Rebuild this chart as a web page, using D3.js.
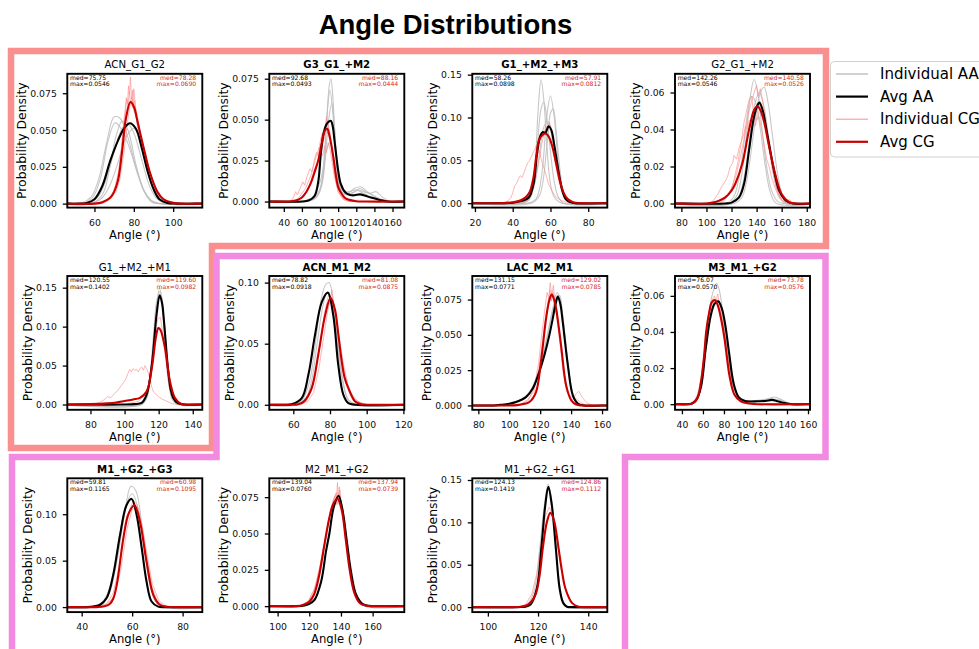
<!DOCTYPE html>
<html>
<head>
<meta charset="utf-8">
<script src="https://cdn.jsdelivr.net/npm/d3@7"></script>
<style>
  body { margin: 0; background: #fff; }
  svg { display: block; font-family: "DejaVu Sans", sans-serif; }
</style>
</head>
<body>
<svg id="chart" width="979" height="649"></svg>
<script>
// ---------------- data ----------------
const titles = ["ACN_G1_G2", "G3_G1_+M2", "G1_+M2_+M3", "G2_G1_+M2",
                "G1_+M2_+M1", "ACN_M1_M2", "LAC_M2_M1", "M3_M1_+G2",
                "M1_+G2_+G3", "M2_M1_+G2", "M1_+G2_+G1"];
const titleBold = [false, true, true, false, false, true, true, true, true, false, false];

const xDomains = [[46.2, 114.8], [24, 173], [18.6, 90.1], [74.9, 182.6],
                  [66.4, 145.6], [46.9, 120.5], [76.1, 163.4], [33.4, 161.9],
                  [34.3, 87.8], [94.75, 180], [93.8, 147.6]];
const yDomains = [[-0.0027, 0.0882], [-0.0037, 0.078], [-0.0052, 0.151], [-0.0022, 0.0701],
                  [-0.0068, 0.165], [-0.0041, 0.1054], [-0.0031, 0.0917], [-0.0031, 0.071],
                  [-0.0054, 0.1387], [-0.0041, 0.088], [-0.0059, 0.152]];

const xTickValues = [[60, 80, 100], [40, 60, 80, 100, 120, 140, 160], [20, 40, 60, 80],
                     [80, 100, 120, 140, 160, 180], [80, 100, 120, 140], [60, 80, 100, 120],
                     [80, 100, 120, 140, 160], [40, 60, 80, 100, 120, 140, 160],
                     [40, 60, 80], [100, 120, 140, 160], [100, 120, 140]];
const yTickValues = [[0, 0.025, 0.05, 0.075], [0, 0.025, 0.05, 0.075], [0, 0.05, 0.1, 0.15],
                     [0, 0.02, 0.04, 0.06], [0, 0.05, 0.1, 0.15], [0, 0.05, 0.1],
                     [0, 0.025, 0.05, 0.075], [0, 0.02, 0.04, 0.06], [0, 0.05, 0.1],
                     [0, 0.025, 0.05, 0.075], [0, 0.05, 0.1, 0.15]];
const yTickDigits = [3, 3, 2, 2, 2, 2, 3, 2, 2, 3, 2];

const medAA = [75.75, 92.68, 58.26, 142.26, 120.55, 78.82, 131.15, 76.07, 59.81, 139.04, 124.13];
const maxAA = [0.0546, 0.0493, 0.0898, 0.0546, 0.1402, 0.0918, 0.0771, 0.0570, 0.1165, 0.0760, 0.1419];
const medCG = [78.28, 88.16, 57.91, 140.58, 119.60, 81.08, 129.02, 73.78, 60.98, 137.94, 124.86];
const maxCG = [0.0690, 0.0444, 0.0812, 0.0526, 0.0982, 0.0875, 0.0785, 0.0576, 0.1095, 0.0739, 0.1112];

// averaged all-atom densities, [angle, density]
const avgAA = [
  [[45,0],[52,0],[56,0.0005],[60,0.003],[64,0.012],[68,0.029],[72,0.043],[75,0.051],[78,0.0546],[81,0.051],[84,0.038],[87,0.022],[90,0.010],[93,0.003],[97,0.0005],[102,0],[115,0]],
  [[24,0],[60,0],[68,0.0008],[74,0.0034],[78,0.012],[81,0.03],[84,0.042],[87,0.047],[90,0.049],[92,0.0493],[94,0.046],[96,0.037],[97.5,0.03],[100,0.019],[103,0.0106],[108,0.0055],[113,0.004],[118,0.0038],[124,0.0044],[130,0.0035],[136,0.0024],[146,0.001],[155,0],[173,0]],
  [[18,0],[35,0],[40,0.0005],[45,0.0027],[48.5,0.0066],[51,0.022],[53,0.060],[54.7,0.079],[56,0.083],[57.3,0.082],[59,0.0898],[60.5,0.085],[62,0.068],[63.6,0.046],[65,0.028],[66.3,0.0145],[68,0.005],[70,0.0015],[73,0],[91,0]],
  [[74,0],[115,0],[120,0.0005],[126,0.0033],[130,0.0107],[134,0.029],[138,0.047],[141,0.0535],[142.3,0.0546],[145,0.050],[147.4,0.0417],[150,0.032],[152.8,0.0216],[155.5,0.013],[158,0.007],[163.5,0.0015],[169,0],[183,0]],
  [[66,0],[100,0],[106,0.0005],[110,0.002],[113,0.0129],[116,0.051],[118.8,0.116],[120.6,0.1402],[122,0.13],[123.1,0.107],[125.6,0.043],[127,0.02],[128.5,0.0086],[131,0.002],[135,0],[146,0]],
  [[46,0],[55,0],[59,0.0004],[64.6,0.0055],[68.2,0.0245],[71.8,0.057],[75.5,0.084],[78.8,0.0918],[81.8,0.073],[84.5,0.0326],[87.3,0.0082],[90,0.0014],[94,0],[121,0]],
  [[76,0],[90,0],[94,0.0004],[100,0.0012],[104.3,0.0024],[110.8,0.0059],[115.1,0.0118],[119.4,0.0237],[122.7,0.0355],[125.9,0.0497],[128.1,0.0615],[130,0.072],[131.4,0.0771],[133,0.072],[134.6,0.059],[137.9,0.0284],[141.1,0.0071],[144.4,0.0012],[148,0],[164,0]],
  [[33,0],[45,0],[49,0.0003],[53.2,0.0018],[58,0.0092],[62.7,0.031],[67.4,0.049],[71,0.0555],[74.5,0.057],[78,0.053],[81.5,0.043],[84.7,0.0293],[89.4,0.011],[94.2,0.0037],[100,0.0018],[105,0.0015],[112,0.0016],[119.4,0.0018],[125.7,0.0024],[130,0.0018],[135.2,0.0009],[144.7,0],[162,0]],
  [[34,0],[42,0],[45,0.0008],[47.3,0.0025],[49.9,0.0097],[52.5,0.0347],[55.2,0.0777],[57.8,0.11],[59.8,0.1165],[61.8,0.099],[63.8,0.0634],[65.7,0.0275],[67.7,0.006],[70.3,0.0005],[74,0],[88,0]],
  [[94,0],[112,0],[117,0.0005],[120,0.0016],[123.3,0.0043],[127.5,0.017],[130.6,0.038],[132.7,0.05],[135.4,0.068],[138.5,0.076],[141,0.066],[143.7,0.0447],[146.3,0.024],[149.4,0.0084],[153.5,0.0016],[158,0.0002],[162,0],[180,0]],
  [[93,0],[112,0],[115,0.0005],[117,0.003],[119.5,0.022],[121.3,0.069],[122.8,0.118],[124.1,0.1419],[125.5,0.12],[127.1,0.069],[128.6,0.022],[130,0.005],[131.5,0.0005],[134,0],[148,0]]
];

// averaged coarse-grained densities, [angle, density]
const avgCG = [
  [[45,0],[60,0],[64,0.001],[68,0.004],[70,0.008],[72,0.016],[74,0.035],[76,0.058],[78.3,0.069],[80,0.066],[82,0.055],[85,0.038],[88,0.022],[92,0.008],[95,0.003],[100,0.0005],[105,0],[115,0]],
  [[24,0],[45,0],[50,0.0003],[55,0.001],[60,0.0025],[65,0.006],[70,0.0116],[74,0.018],[78,0.025],[82,0.036],[85,0.043],[88,0.0444],[90,0.041],[92,0.036],[95,0.026],[97.5,0.016],[100,0.009],[103,0.0055],[107,0.0025],[111,0.0012],[120,0.0002],[130,0],[173,0]],
  [[18,0],[35,0],[40,0.001],[44,0.003],[47,0.007],[49,0.013],[51,0.03],[52.5,0.055],[54,0.074],[56,0.080],[57.4,0.0812],[59,0.078],[61,0.066],[63,0.046],[65,0.026],[67,0.012],[69,0.005],[72,0.001],[76,0],[91,0]],
  [[74,0],[100,0],[105,0.0005],[110,0.0015],[115,0.0033],[120,0.007],[123,0.0107],[128.6,0.0216],[134,0.040],[138,0.0505],[140.6,0.0526],[143,0.0505],[146,0.044],[150,0.0307],[155,0.0155],[160,0.005],[166,0.0008],[172,0],[183,0]],
  [[66,0],[80,0.0005],[90,0.0015],[95,0.0025],[100,0.0045],[105,0.0065],[109,0.0086],[113,0.017],[116,0.047],[118.5,0.088],[119.8,0.0982],[121,0.096],[123.7,0.0728],[126.6,0.03],[129.5,0.0086],[133,0.001],[138,0],[146,0]],
  [[46,0],[58,0],[62.7,0.0004],[66,0.003],[70,0.0136],[73.6,0.041],[77.3,0.073],[80.3,0.0875],[82.7,0.078],[84.5,0.058],[86.4,0.0353],[88,0.022],[90,0.0136],[93.7,0.0027],[97.3,0.0004],[102,0],[121,0]],
  [[76,0],[100,0],[105,0.0002],[110,0.0012],[113,0.0024],[117.3,0.0095],[120.5,0.031],[123.8,0.0615],[126,0.075],[127.5,0.0785],[129,0.075],[130.3,0.0687],[133.5,0.0426],[136.8,0.0142],[140.1,0.0036],[143.3,0.0006],[147,0],[164,0]],
  [[33,0],[46,0],[50,0.0005],[55,0.0037],[58,0.012],[61,0.026],[63.1,0.0402],[66,0.051],[68.5,0.0565],[71.5,0.0576],[74,0.055],[77,0.048],[80.5,0.0364],[83,0.025],[85.2,0.016],[89.9,0.0054],[96,0.0016],[105,0.0004],[112,0],[162,0]],
  [[34,0],[46,0],[49,0.0008],[51,0.003],[52.5,0.009],[53.9,0.024],[56.5,0.074],[58.5,0.1],[60.9,0.1095],[63.1,0.092],[65.7,0.049],[68.4,0.0132],[71,0.0025],[74,0.0003],[78,0],[88,0]],
  [[94,0],[112,0],[116,0.0008],[120,0.003],[123,0.008],[126,0.02],[129.5,0.042],[132.5,0.06],[135,0.07],[137.8,0.0739],[140.5,0.066],[143,0.046],[145.5,0.025],[148.5,0.009],[152,0.002],[156,0.0003],[160,0],[180,0]],
  [[93,0],[110,0],[113,0.0005],[116,0.003],[118.9,0.014],[120.5,0.035],[122,0.072],[123.5,0.1],[124.9,0.1112],[126.3,0.103],[128.2,0.069],[129.5,0.043],[130.9,0.022],[133.6,0.0047],[136.2,0.0005],[140,0],[148,0]]
];

// individual all-atom runs
const indivAA = [
  [
    [[52,0],[58,0.004],[62,0.016],[66,0.04],[70,0.059],[73,0.058],[77,0.045],[81,0.025],[85,0.009],[89,0.002],[94,0]],
    [[54,0],[59,0.004],[63,0.017],[67,0.043],[70.5,0.055],[74,0.05],[78,0.037],[82,0.02],[86,0.007],[90,0.001],[94,0]],
    [[56,0],[62,0.005],[66,0.017],[70,0.035],[74,0.051],[77,0.054],[80,0.048],[84,0.03],[88,0.012],[92,0.003],[97,0]],
    [[58,0],[64,0.004],[68,0.013],[72,0.028],[76,0.045],[80,0.051],[84,0.042],[88,0.022],[92,0.007],[96,0.001],[100,0]],
    [[58,0],[64,0.006],[68,0.026],[71,0.046],[74,0.056],[77,0.05],[81,0.027],[85,0.009],[89,0.001],[93,0]]
  ],
  [
    [[60,0],[70,0.001],[78,0.004],[83,0.015],[87,0.045],[90,0.07],[92,0.075],[94,0.065],[97,0.035],[100,0.015],[104,0.006],[110,0.004],[118,0.006],[124,0.008],[130,0.006],[138,0.004],[145,0.002],[155,0]],
    [[60,0],[72,0.002],[80,0.008],[85,0.03],[88,0.055],[91,0.068],[94,0.055],[97,0.03],[101,0.01],[106,0.005],[115,0.005],[122,0.007],[128,0.006],[135,0.005],[142,0.006],[148,0.003],[158,0]],
    [[62,0],[75,0.002],[82,0.01],[87,0.035],[90,0.052],[93,0.06],[96,0.045],[99,0.022],[103,0.009],[110,0.005],[118,0.008],[125,0.009],[132,0.006],[140,0.003],[150,0]],
    [[60,0],[72,0.003],[80,0.012],[85,0.025],[88,0.033],[91,0.036],[94,0.03],[98,0.017],[103,0.008],[110,0.006],[120,0.007],[128,0.005],[140,0.002],[150,0]]
  ],
  [
    [[44,0],[48,0.003],[50,0.012],[52,0.05],[53.5,0.11],[55,0.144],[56.5,0.12],[58,0.07],[59.5,0.03],[61,0.012],[63,0.004],[66,0]],
    [[48,0],[52,0.004],[54,0.015],[56,0.045],[58,0.1],[60,0.125],[62,0.1],[64,0.05],[66,0.015],[68,0.004],[71,0]],
    [[45,0],[49,0.005],[51,0.02],[53,0.065],[55,0.11],[56.5,0.118],[58,0.1],[60,0.06],[62,0.025],[64,0.008],[67,0]],
    [[50,0],[54,0.008],[56,0.025],[58,0.065],[60,0.105],[61.5,0.11],[63,0.085],[65,0.04],[67,0.012],[70,0.002],[73,0]],
    [[44,0],[48,0.005],[51,0.02],[54,0.055],[56,0.085],[58,0.095],[60,0.09],[62,0.065],[64,0.035],[66,0.014],[69,0.003],[72,0]]
  ],
  [
    [[118,0],[124,0.004],[128,0.015],[132,0.038],[135,0.058],[138,0.067],[141,0.06],[144,0.042],[148,0.02],[152,0.007],[157,0.001],[162,0]],
    [[122,0],[128,0.003],[132,0.012],[136,0.03],[140,0.05],[143,0.06],[146,0.063],[149,0.055],[153,0.035],[157,0.015],[161,0.004],[166,0]],
    [[120,0],[126,0.004],[130,0.014],[134,0.033],[138,0.052],[142,0.06],[146,0.052],[150,0.033],[154,0.014],[158,0.004],[163,0]],
    [[116,0],[122,0.004],[126,0.014],[130,0.033],[133,0.05],[136,0.058],[139,0.055],[143,0.04],[147,0.02],[151,0.006],[156,0]]
  ],
  [
    [[110,0],[113,0.008],[115,0.035],[117,0.08],[119,0.13],[120.5,0.15],[122,0.13],[124,0.07],[126,0.025],[128,0.006],[131,0]],
    [[110,0],[113,0.01],[115,0.04],[117,0.09],[119,0.135],[121,0.145],[123,0.115],[125,0.055],[127,0.016],[130,0.002],[133,0]]
  ],
  [
    [[60,0],[65,0.004],[69,0.02],[72,0.05],[75,0.085],[77.5,0.098],[79.5,0.1],[81.5,0.088],[84,0.055],[87,0.02],[90,0.004],[95,0]],
    [[62,0],[67,0.006],[70,0.02],[73,0.05],[76,0.08],[78.5,0.092],[81,0.085],[84,0.05],[87,0.018],[90,0.004],[94,0]]
  ],
  [
    [[95,0],[105,0.002],[112,0.008],[117,0.018],[121,0.032],[125,0.052],[128,0.068],[131,0.08],[133,0.075],[135,0.06],[138,0.03],[141,0.009],[145,0.001],[150,0]],
    [[95,0],[108,0.004],[115,0.012],[120,0.028],[124,0.046],[127.5,0.064],[130.5,0.076],[132.5,0.078],[134.5,0.064],[137.5,0.033],[140.5,0.01],[144,0.002],[148,0]]
  ],
  [
    [[45,0],[52,0.002],[57,0.01],[62,0.032],[66,0.052],[70,0.063],[73,0.067],[76,0.062],[80,0.045],[85,0.022],[90,0.008],[95,0.003],[105,0.002],[115,0.002],[122,0.003],[128,0.004],[133,0.003],[140,0.001],[148,0]],
    [[47,0],[54,0.003],[59,0.014],[64,0.036],[68,0.052],[72,0.058],[76,0.056],[80,0.043],[85,0.022],[90,0.008],[97,0.002],[110,0.002],[125,0.003],[135,0.002],[145,0]]
  ],
  [
    [[44,0],[48,0.004],[51,0.015],[54,0.05],[57,0.1],[59.5,0.13],[61.5,0.125],[64,0.085],[66,0.045],[68,0.015],[70,0.004],[73,0]],
    [[44,0],[48,0.005],[51,0.02],[54,0.06],[57,0.105],[60,0.122],[62.5,0.105],[65,0.06],[67,0.025],[69,0.007],[72,0]]
  ],
  [
    [[112,0],[118,0.002],[123,0.008],[127,0.024],[131,0.05],[134.5,0.07],[137.5,0.078],[140.5,0.07],[143.5,0.047],[146.5,0.022],[150,0.006],[155,0]]
  ],
  [
    [[113,0],[116,0.004],[118.5,0.02],[120.5,0.065],[122.5,0.12],[124,0.145],[125.5,0.125],[127,0.075],[128.5,0.028],[130,0.007],[132,0]]
  ]
];

// individual coarse-grained runs (histogram-like, noisy)
const indivCG = [
  [
    [[62,0],[66,0.002],[69,0.006],[71,0.013],[72.5,0.022],[73.5,0.035],[74.5,0.05],[75.5,0.063],[76.2,0.072],[76.8,0.068],[77.3,0.08],[77.8,0.074],[78.3,0.086],[78.8,0.071],[79.3,0.077],[79.8,0.066],[80.5,0.07],[81.3,0.058],[82.3,0.055],[83.5,0.045],[85,0.036],[87,0.024],[89,0.014],[91,0.007],[94,0.002],[98,0]],
    [[63,0],[67,0.003],[70,0.009],[72,0.02],[73.5,0.034],[74.7,0.052],[75.6,0.06],[76.4,0.071],[77.1,0.066],[77.7,0.076],[78.4,0.068],[79.2,0.072],[80,0.063],[81,0.06],[82.5,0.048],[84,0.04],[86,0.028],[88,0.017],[90,0.009],[93,0.003],[97,0]],
    [[64,0],[68,0.003],[71,0.008],[73,0.017],[75,0.035],[76.5,0.053],[77.5,0.062],[78.5,0.07],[79.3,0.065],[80,0.078],[80.8,0.066],[81.7,0.06],[83,0.05],[85,0.034],[87,0.022],[89.5,0.011],[92,0.004],[96,0]]
  ],
  [
    [[48,0],[51,0.003],[53,0.006],[55,0.004],[58,0.008],[61,0.012],[63,0.01],[66,0.016],[69,0.02],[71,0.018],[74,0.026],[76,0.03],[78,0.028],[80,0.036],[82,0.041],[84,0.038],[86,0.046],[88,0.05],[90,0.044],[92,0.038],[94,0.028],[96,0.018],[99,0.01],[103,0.004],[108,0.001],[115,0]],
    [[52,0],[56,0.002],[60,0.005],[64,0.008],[67,0.012],[70,0.016],[73,0.022],[76,0.028],[79,0.033],[81,0.03],[83,0.035],[85,0.04],[87,0.052],[89,0.045],[91,0.042],[93,0.03],[96,0.016],[100,0.006],[105,0.002],[112,0]],
    [[55,0],[60,0.003],[65,0.006],[70,0.012],[74,0.02],[77,0.024],[80,0.03],[83,0.028],[85,0.034],[87,0.03],[89,0.036],[91,0.032],[93,0.025],[96,0.015],[100,0.006],[106,0.001],[112,0]]
  ],
  [
    [[35,0],[37,0.002],[39,0.006],[40,0.012],[41,0.02],[42,0.023],[43,0.028],[44,0.032],[45,0.03],[46,0.036],[47,0.042],[48,0.047],[49,0.05],[50,0.055],[51,0.06],[52,0.064],[52.8,0.068],[53.5,0.058],[54.2,0.062],[55,0.052],[56,0.045],[57,0.038],[58,0.03],[59,0.022],[60,0.018],[61,0.014],[62,0.01],[63,0.007],[65,0.004],[67,0.002],[70,0]],
    [[45,0],[48,0.004],[50,0.01],[52,0.025],[54,0.05],[55.5,0.07],[56.5,0.08],[57.5,0.09],[58.5,0.085],[59.5,0.095],[60.5,0.08],[62,0.055],[64,0.03],[66,0.014],[68,0.008],[70,0.003],[73,0]]
  ],
  [
    [[103,0],[106,0.002],[109,0.005],[112,0.009],[115,0.012],[117,0.015],[119,0.02],[121,0.022],[122,0.026],[124,0.024],[126,0.03],[128,0.034],[130,0.038],[131,0.042],[133,0.04],[134,0.045],[136,0.044],[137,0.048],[139,0.05],[140,0.045],[142,0.047],[144,0.04],[146,0.032],[148,0.024],[150,0.02],[152,0.014],[155,0.008],[158,0.003],[162,0.001],[166,0.002],[170,0]],
    [[110,0],[115,0.003],[120,0.008],[124,0.016],[127,0.025],[130,0.035],[132,0.043],[134,0.05],[136,0.055],[138,0.06],[140,0.064],[141,0.058],[143,0.062],[145,0.055],[147,0.045],[150,0.032],[153,0.018],[156,0.008],[160,0.002],[165,0]],
    [[112,0],[117,0.004],[121,0.01],[125,0.022],[128,0.034],[130,0.044],[132,0.05],[134,0.056],[136,0.058],[137,0.052],[138,0.048],[139,0.042],[140,0.045],[142,0.05],[144,0.053],[146,0.048],[149,0.035],[152,0.02],[156,0.008],[160,0.002],[164,0]]
  ],
  [
    [[80,0],[85,0.002],[88,0.006],[90,0.01],[92,0.009],[94,0.014],[96,0.018],[98,0.024],[100,0.03],[101,0.034],[102,0.04],[103,0.045],[104,0.042],[105,0.046],[106,0.044],[107,0.045],[108,0.042],[109,0.046],[110,0.048],[111,0.044],[112,0.05],[113,0.046],[114,0.04],[115,0.032],[116,0.022],[117,0.016],[118,0.014],[119,0.012],[120,0.01],[122,0.007],[124,0.005],[126,0.003],[128,0.001],[132,0]],
    [[100,0],[108,0.004],[112,0.012],[114,0.025],[116,0.055],[118,0.095],[119.5,0.11],[121,0.112],[122.5,0.09],[124,0.06],[126,0.025],[128,0.008],[131,0.001],[135,0]]
  ],
  [
    [[62,0],[67,0.003],[70,0.012],[73,0.035],[75.5,0.06],[77,0.075],[78.5,0.085],[79.5,0.092],[80.3,0.086],[81,0.094],[82,0.082],[83.5,0.07],[85.5,0.048],[88,0.025],[91,0.01],[95,0.003],[100,0]],
    [[64,0],[68,0.003],[71,0.01],[74,0.03],[76.5,0.055],[78.5,0.075],[80,0.085],[81.5,0.08],[83,0.075],[85,0.055],[87.5,0.032],[90,0.015],[93,0.005],[98,0]]
  ],
  [
    [[105,0],[112,0.003],[116,0.012],[119,0.03],[121,0.05],[123,0.068],[124.5,0.08],[125.5,0.076],[126.5,0.087],[127.5,0.078],[128.5,0.085],[129.5,0.074],[131,0.066],[133,0.045],[135,0.025],[137,0.012],[139,0.006],[141,0.004],[143,0.008],[145,0.01],[147,0.006],[150,0.002],[154,0]],
    [[106,0],[112,0.004],[116,0.01],[119,0.025],[121.5,0.045],[123.5,0.063],[125,0.072],[126.3,0.082],[127.2,0.074],[128.3,0.08],[129.5,0.072],[131,0.06],[133,0.042],[135,0.022],[137,0.01],[140,0.006],[143,0.005],[146,0.002],[150,0]]
  ],
  [
    [[49,0],[54,0.003],[58,0.012],[61,0.028],[64,0.045],[67,0.055],[69,0.058],[71,0.06],[72.5,0.057],[74,0.061],[76,0.055],[79,0.044],[82,0.033],[85,0.022],[88,0.012],[92,0.005],[98,0.002],[107,0]],
    [[50,0],[55,0.005],[59,0.016],[62,0.032],[65,0.047],[68,0.055],[70.5,0.058],[73,0.056],[75.5,0.052],[78,0.045],[81,0.035],[85,0.02],[89,0.009],[94,0.003],[102,0]]
  ],
  [
    [[46,0],[50,0.004],[52.5,0.015],[55,0.045],[57,0.08],[59,0.105],[60.5,0.115],[62,0.11],[64,0.085],[66,0.05],[68,0.02],[70,0.006],[73,0.001],[76,0]],
    [[46,0],[50,0.003],[53,0.012],[55.5,0.04],[58,0.085],[60,0.105],[62,0.108],[64,0.088],[66,0.055],[68,0.025],[70.5,0.007],[74,0]]
  ],
  [
    [[114,0],[119,0.003],[123,0.011],[126,0.024],[129,0.04],[131.5,0.055],[133.5,0.066],[135,0.072],[136.2,0.076],[137,0.07],[137.8,0.085],[138.5,0.072],[139.3,0.08],[140.2,0.068],[141.5,0.062],[143,0.046],[145,0.03],[147.5,0.014],[150,0.006],[154,0.001],[158,0]],
    [[114,0],[120,0.004],[124,0.014],[127,0.028],[130,0.046],[132.5,0.06],[134.5,0.068],[136,0.074],[137,0.078],[138,0.07],[139,0.082],[140,0.07],[141.5,0.06],[143.5,0.044],[146,0.024],[149,0.009],[153,0.002],[157,0]]
  ],
  [
    [[112,0],[115,0.003],[117.5,0.015],[119.5,0.04],[121.5,0.08],[123,0.108],[124.5,0.118],[126,0.108],[127.5,0.08],[129,0.05],[131,0.02],[133,0.006],[136,0]]
  ]
];

const legendLabels = ["Individual AA", "Avg AA", "Individual CG", "Avg CG"];

// ---------------- layout & style ----------------
const colLeft = [67.3, 269.3, 472.3, 675];
const rowTop = [73.8, 276, 478.3];
const W = 135, H = 133.8;
const FONT = "DejaVu Sans";
const C = {
  indAA: "#bdbdbd", avgAA: "#000000", indCG: "#ff8f8f", avgCG: "#c80000",
  medCG: "#d42a2a", salmon: "#f98f8f", orchid: "#f38ae2"
};

const svg = d3.select("#chart");

// group frames
svg.append("path")
  .attr("d", "M11,51 H826 V246 H212 V448 H11 Z")
  .attr("fill", "none").attr("stroke", C.salmon).attr("stroke-width", 6.5)
  .attr("stroke-linejoin", "miter");
svg.append("path")
  .attr("d", "M12,660 V457 H216.5 V256 H825.5 V457 H625 V660")
  .attr("fill", "none").attr("stroke", C.orchid).attr("stroke-width", 6.5)
  .attr("stroke-linejoin", "miter");

// figure title
svg.append("text")
  .attr("x", 445.5).attr("y", 34)
  .attr("text-anchor", "middle")
  .attr("font-family", "Liberation Sans, Arial, sans-serif")
  .attr("font-weight", "bold").attr("font-size", 27.5)
  .text("Angle Distributions");

titles.forEach((title, i) => {
  const row = Math.floor(i / 4), col = i % 4;
  const L = colLeft[col], T = rowTop[row];
  const x = d3.scaleLinear().domain(xDomains[i]).range([L, L + W]);
  const y = d3.scaleLinear().domain(yDomains[i]).range([T + H, T]);
  const g = svg.append("g");

  const clipId = "clip" + i;
  g.append("clipPath").attr("id", clipId)
    .append("rect").attr("x", L).attr("y", T).attr("width", W).attr("height", H);

  const smooth = d3.line().x(d => x(d[0])).y(d => y(d[1])).curve(d3.curveCatmullRom.alpha(0.5));
  const jagged = d3.line().x(d => x(d[0])).y(d => y(d[1]));

  const plot = g.append("g").attr("clip-path", `url(#${clipId})`);

  // baseline continuation so every trace spans the axis
  const extend = pts => [[xDomains[i][0] - 5, 0], ...pts, [xDomains[i][1] + 5, 0]];

  plot.selectAll(".iaa").data(indivAA[i]).join("path")
    .attr("d", d => smooth(extend(d)))
    .attr("fill", "none").attr("stroke", C.indAA).attr("stroke-width", 1.1).attr("opacity", 0.85);
  plot.selectAll(".icg").data(indivCG[i]).join("path")
    .attr("d", d => jagged(extend(d)))
    .attr("fill", "none").attr("stroke", C.indCG).attr("stroke-width", 0.9).attr("opacity", 0.75);
  plot.append("path").attr("d", smooth(extend(avgAA[i])))
    .attr("fill", "none").attr("stroke", C.avgAA).attr("stroke-width", 2.1);
  plot.append("path").attr("d", smooth(extend(avgCG[i])))
    .attr("fill", "none").attr("stroke", C.avgCG).attr("stroke-width", 2.1);

  // axes
  const xa = g.append("g").attr("transform", `translate(0,${T + H})`)
    .call(d3.axisBottom(x).tickValues(xTickValues[i]).tickSize(4.5).tickPadding(7)
      .tickFormat(d3.format("d")));
  const ya = g.append("g").attr("transform", `translate(${L},0)`)
    .call(d3.axisLeft(y).tickValues(yTickValues[i]).tickSize(4.5).tickPadding(6)
      .tickFormat(d3.format(`.${yTickDigits[i]}f`)));
  [xa, ya].forEach(a => {
    a.select(".domain").remove();
    a.selectAll("line").attr("stroke", "#000").attr("stroke-width", 1.3);
    a.selectAll("text").attr("font-family", FONT).attr("font-size", 9.3).attr("fill", "#111");
  });

  // spines
  g.append("rect").attr("x", L).attr("y", T).attr("width", W).attr("height", H)
    .attr("fill", "none").attr("stroke", "#000").attr("stroke-width", 1.9);

  // labels
  g.append("text").attr("x", L + W / 2).attr("y", T - 5.5)
    .attr("text-anchor", "middle").attr("font-family", FONT).attr("font-size", 10.2)
    .attr("font-weight", titleBold[i] ? "bold" : "normal").text(title);

  g.append("text").attr("x", L + W / 2).attr("y", T + H + 31)
    .attr("text-anchor", "middle").attr("font-family", FONT).attr("font-size", 11.6)
    .text("Angle (°)");

  let maxW = 0;
  ya.selectAll("text").each(function () { maxW = Math.max(maxW, this.getComputedTextLength()); });
  const yl = L - 10.5 - maxW - 8.5;
  g.append("text").attr("transform", `translate(${yl},${T + H / 2}) rotate(-90)`)
    .attr("text-anchor", "middle").attr("dominant-baseline", "central")
    .attr("font-family", FONT).attr("font-size", 12.4)
    .text("Probability Density");

  // median / peak annotations
  const ann = g.append("g").attr("font-family", FONT).attr("font-size", 6.1);
  ann.append("text").attr("x", L + 0.02 * W).attr("y", T + 6).text(`med=${medAA[i].toFixed(2)}`);
  ann.append("text").attr("x", L + 0.02 * W).attr("y", T + 12.5).text(`max=${maxAA[i].toFixed(4)}`);
  ann.append("text").attr("x", L + 0.955 * W).attr("y", T + 6).attr("text-anchor", "end")
    .attr("fill", C.medCG).text(`med=${medCG[i].toFixed(2)}`);
  ann.append("text").attr("x", L + 0.955 * W).attr("y", T + 12.5).attr("text-anchor", "end")
    .attr("fill", C.medCG).text(`max=${maxCG[i].toFixed(4)}`);
});

// legend
const lg = svg.append("g");
lg.append("rect").attr("x", 830.5).attr("y", 61.5).attr("width", 165).attr("height", 95.5)
  .attr("rx", 4).attr("fill", "#fff").attr("fill-opacity", 0.85)
  .attr("stroke", "#d0d0d0").attr("stroke-width", 1);
const legendStyle = [
  { c: C.indAA, w: 1.4 }, { c: C.avgAA, w: 2.2 }, { c: C.indCG, w: 1.0 }, { c: C.avgCG, w: 2.2 }
];
legendLabels.forEach((lab, k) => {
  const yy = 74 + k * 22.6;
  lg.append("line").attr("x1", 836).attr("x2", 868).attr("y1", yy).attr("y2", yy)
    .attr("stroke", legendStyle[k].c).attr("stroke-width", legendStyle[k].w);
  lg.append("text").attr("x", 880).attr("y", yy).attr("dominant-baseline", "central")
    .attr("font-family", FONT).attr("font-size", 15).text(lab);
});
</script>
</body>
</html>
